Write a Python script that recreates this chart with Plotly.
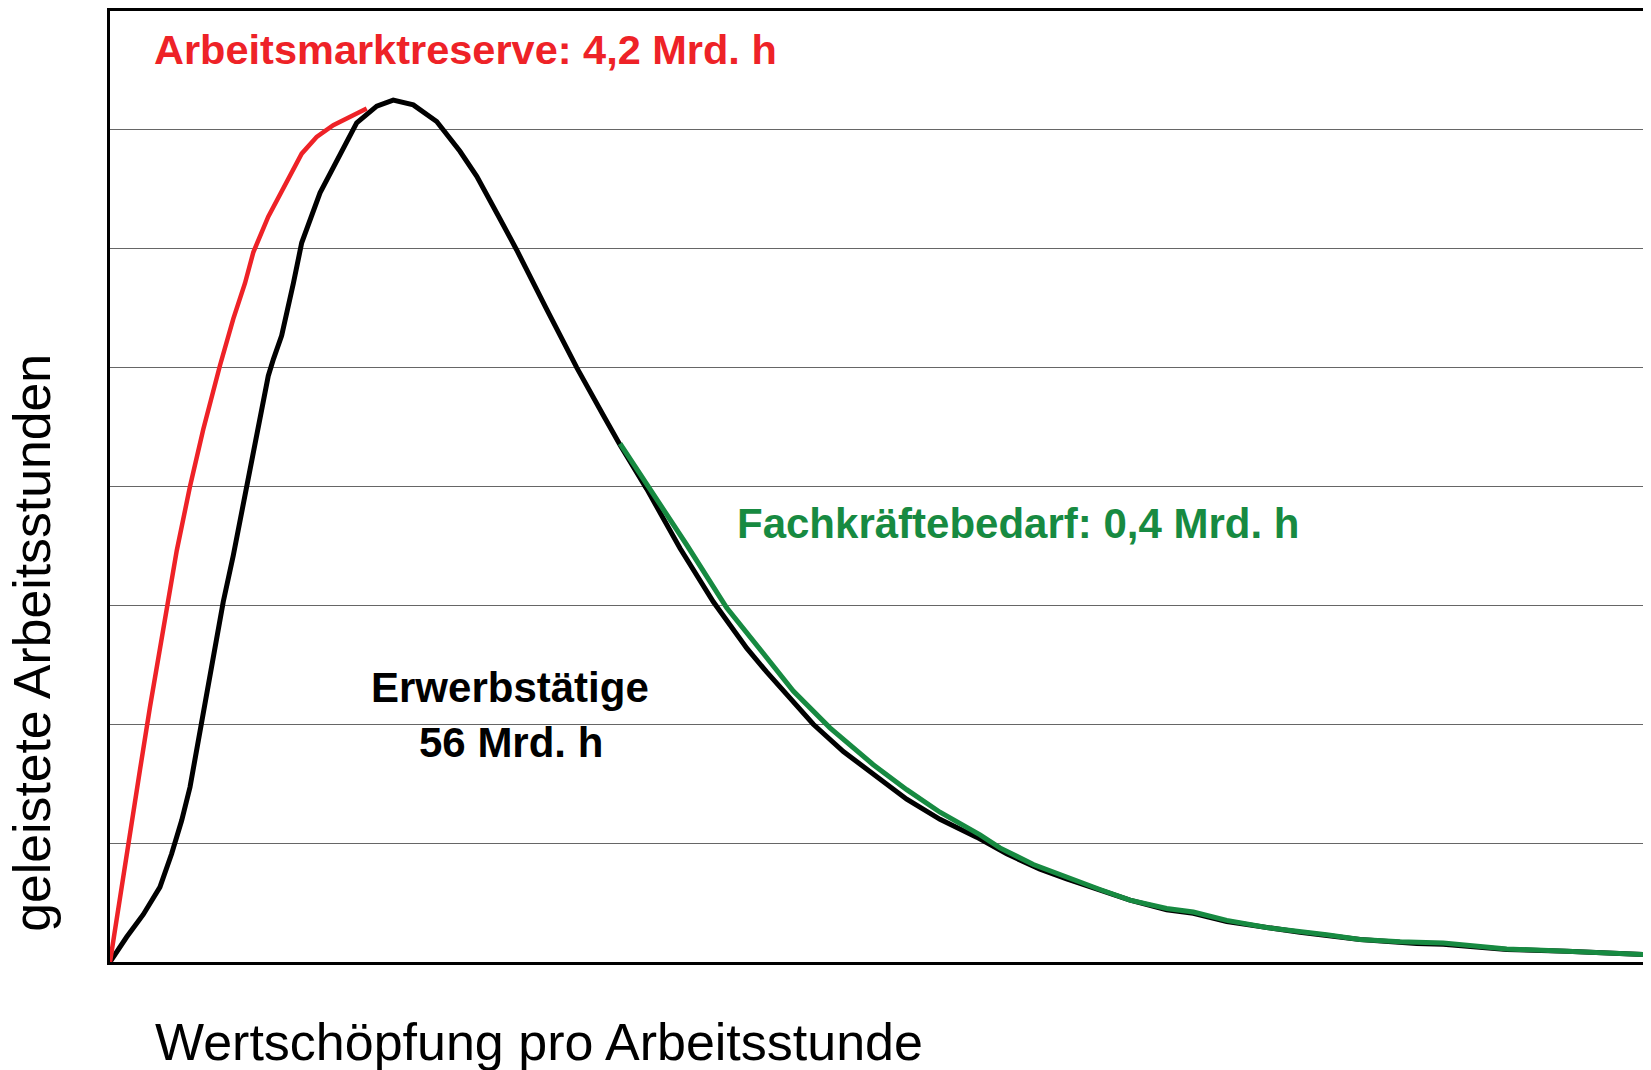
import plotly.graph_objects as go

# --- data (x: Wertschöpfung pro Arbeitsstunde, relative 0..100; y: geleistete Arbeitsstunden, grid units) ---
erwerb_x = [0, 1.08, 2.16, 3.24, 4.00, 4.65, 5.19, 5.73, 6.28, 6.81, 7.35, 8.00, 8.87, 9.52,
            10.27, 10.60, 11.14, 11.90, 12.44, 13.63, 14.49, 16.01, 17.31, 18.38, 19.68, 21.20,
            22.71, 23.80, 25.31, 26.39, 28.34, 30.29, 32.01, 33.10, 34.83, 36.99, 39.15, 41.32,
            42.61, 43.91, 45.64, 47.59, 49.53, 51.70, 53.86, 56.24, 58.19, 60.35, 62.08, 64.24,
            66.19, 68.57, 70.30, 72.47, 75.06, 77.22, 81.12, 84.79, 86.52, 90.64, 94.53, 100]
erwerb_y = [0, 0.21, 0.40, 0.63, 0.91, 1.19, 1.47, 1.86, 2.25, 2.67, 3.03, 3.42, 4.00, 4.43,
            4.93, 5.07, 5.27, 5.71, 6.05, 6.47, 6.69, 7.06, 7.20, 7.25, 7.21, 7.07,
            6.82, 6.61, 6.25, 5.99, 5.49, 5.00, 4.60, 4.35, 3.98, 3.48, 3.03, 2.64,
            2.44, 2.25, 2.00, 1.77, 1.58, 1.37, 1.20, 1.05, 0.91, 0.78, 0.70, 0.60,
            0.52, 0.44, 0.41, 0.34, 0.29, 0.25, 0.19, 0.155, 0.15, 0.105, 0.09, 0.06]

reserve_x = [0, 0.65, 1.30, 1.95, 2.60, 3.24, 3.78, 4.33, 5.19, 6.05, 7.14, 8.00, 8.76, 9.30,
             10.27, 12.44, 13.41, 14.49, 16.66]
reserve_y = [0, 0.56, 1.10, 1.62, 2.15, 2.65, 3.05, 3.46, 4.00, 4.48, 5.02, 5.41, 5.71, 5.97,
             6.27, 6.80, 6.94, 7.04, 7.18]

bedarf_x = [33.10, 35.04, 37.42, 40.02, 42.61, 44.34, 46.72, 49.53, 51.70, 53.86, 56.46, 57.75,
            59.92, 62.08, 64.24, 66.19, 68.57, 70.30, 72.47, 75.06, 77.22, 78.95, 81.12, 83.71,
            86.52, 90.64, 94.53, 100]
bedarf_y = [4.36, 3.98, 3.51, 2.98, 2.56, 2.28, 1.97, 1.66, 1.45, 1.26, 1.07, 0.96,
            0.82, 0.71, 0.61, 0.52, 0.45, 0.42, 0.35, 0.29, 0.26, 0.23, 0.19, 0.17,
            0.16, 0.11, 0.09, 0.06]

label_reserve = "Arbeitsmarktreserve: 4,2 Mrd. h"
label_bedarf = "Fachkräftebedarf: 0,4 Mrd. h"
label_erwerb_1 = "Erwerbstätige"
label_erwerb_2 = "56 Mrd. h"
title_x = "Wertschöpfung pro Arbeitsstunde"
title_y = "geleistete Arbeitsstunden"

RED = "#EE2227"
GREEN = "#178A41"
FONT = "Liberation Sans, Arial, sans-serif"

fig = go.Figure()
fig.add_trace(go.Scatter(x=erwerb_x, y=erwerb_y, mode="lines",
                         line=dict(color="black", width=5), hoverinfo="skip"))
fig.add_trace(go.Scatter(x=reserve_x, y=reserve_y, mode="lines",
                         line=dict(color=RED, width=4.5), hoverinfo="skip"))
fig.add_trace(go.Scatter(x=bedarf_x, y=bedarf_y, mode="lines",
                         line=dict(color=GREEN, width=5), hoverinfo="skip"))

# page has an 8px body margin: size figure so it fits the 1651x1070 window
OFF = 8
W, H = 1651 - OFF, 1070 - OFF
ML, MR, MT, MB = 110 - OFF, 0, 1, 108
pw = W - ML - MR
ph = H - MT - MB

def px(page_x):
    return (page_x - OFF - ML) / pw

def py(page_y):
    return (H - MB - (page_y - OFF)) / ph

ann = []
ann.append(dict(text=f"<b>{label_reserve}</b>", x=px(152), y=py(48), xref="paper", yref="paper",
                xanchor="left", yanchor="middle", showarrow=False,
                font=dict(family=FONT, size=41.5, color=RED)))
ann.append(dict(text=f"<b>{label_bedarf}</b>", x=px(735), y=py(523), xref="paper", yref="paper",
                xanchor="left", yanchor="middle", showarrow=False,
                font=dict(family=FONT, size=42, color=GREEN)))
ann.append(dict(text=f"<b>{label_erwerb_1}</b>", x=px(510), y=py(687), xref="paper", yref="paper",
                xanchor="center", yanchor="middle", showarrow=False,
                font=dict(family=FONT, size=42, color="black")))
ann.append(dict(text=f"<b>{label_erwerb_2}</b>", x=px(511), y=py(742), xref="paper", yref="paper",
                xanchor="center", yanchor="middle", showarrow=False,
                font=dict(family=FONT, size=42, color="black")))
ann.append(dict(text=title_x, x=px(153), y=py(1042), xref="paper", yref="paper",
                xanchor="left", yanchor="middle", showarrow=False,
                font=dict(family=FONT, size=52, color="black")))
ann.append(dict(text=title_y, x=px(32), y=py(642), xref="paper", yref="paper",
                xanchor="center", yanchor="middle", showarrow=False, textangle=-90,
                font=dict(family=FONT, size=51.7, color="black")))

fig.update_layout(
    width=W, height=H,
    margin=dict(l=ML, r=MR, t=MT, b=MB, pad=0),
    paper_bgcolor="white", plot_bgcolor="white",
    showlegend=False,
    annotations=ann,
    xaxis=dict(range=[0, 100], showgrid=False, zeroline=False, showticklabels=False,
               ticks="", showline=True, linecolor="black", linewidth=3, mirror=True),
    yaxis=dict(range=[0, 8], dtick=1, showgrid=True, gridcolor="#666666", gridwidth=1.2,
               zeroline=False, showticklabels=False, ticks="",
               showline=True, linecolor="black", linewidth=3),
)

fig.write_html("out.html")
